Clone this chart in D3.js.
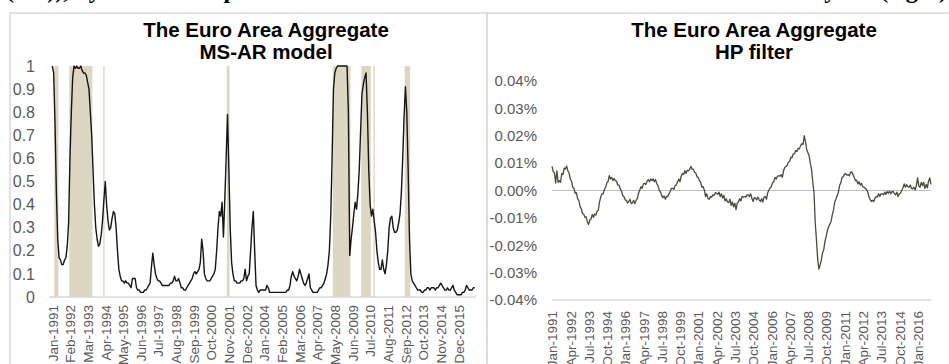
<!DOCTYPE html>
<html>
<head>
<meta charset="utf-8">
<script src="https://cdn.jsdelivr.net/npm/d3@7"></script>
<style>
  body { margin: 0; background: #fff; }
  svg { display: block; }
  .tick text { fill: #595959; font-family: "Liberation Sans", Arial, sans-serif; }
</style>
</head>
<body>
<svg id="chart" width="949" height="364"></svg>
<script>
// Monthly categories, Jan-1991 .. Dec-2016
const fmtMonth = d3.timeFormat("%b-%Y");
const months = d3.timeMonth.range(new Date(1991, 0, 1), new Date(2017, 0, 1)).map(fmtMonth);

// Recession probability from the Markov-switching AR model (one row per year)
const msarProb = [
  1.00, 0.97, 0.75, 0.45, 0.25, 0.17, 0.16, 0.14, 0.14, 0.16, 0.17, 0.22,
  0.32, 0.60, 0.80, 0.95, 1.00, 0.99, 1.00, 0.99, 0.99, 1.00, 0.98, 0.97,
  0.97, 0.96, 0.93, 0.90, 0.80, 0.70, 0.55, 0.40, 0.30, 0.25, 0.22, 0.23,
  0.27, 0.33, 0.42, 0.50, 0.40, 0.33, 0.29, 0.30, 0.34, 0.37, 0.36, 0.30,
  0.20, 0.12, 0.09, 0.07, 0.07, 0.06, 0.07, 0.06, 0.06, 0.05, 0.04, 0.08,
  0.08, 0.08, 0.04, 0.03, 0.03, 0.02, 0.02, 0.02, 0.03, 0.03, 0.04, 0.05,
  0.06, 0.13, 0.19, 0.14, 0.10, 0.08, 0.07, 0.07, 0.06, 0.05, 0.05, 0.05,
  0.05, 0.05, 0.05, 0.06, 0.06, 0.07, 0.09, 0.07, 0.07, 0.08, 0.06, 0.04,
  0.04, 0.03, 0.03, 0.04, 0.05, 0.06, 0.07, 0.08, 0.10, 0.11, 0.10, 0.11,
  0.12, 0.15, 0.25, 0.20, 0.10, 0.08, 0.07, 0.07, 0.07, 0.08, 0.09, 0.10,
  0.12, 0.20, 0.30, 0.37, 0.35, 0.41, 0.26, 0.42, 0.60, 0.79, 0.55, 0.30,
  0.15, 0.10, 0.07, 0.07, 0.06, 0.06, 0.06, 0.07, 0.07, 0.08, 0.12, 0.07,
  0.09, 0.10, 0.20, 0.30, 0.37, 0.20, 0.05, 0.03, 0.02, 0.03, 0.03, 0.03,
  0.03, 0.03, 0.05, 0.04, 0.02, 0.02, 0.02, 0.02, 0.02, 0.02, 0.02, 0.02,
  0.02, 0.02, 0.02, 0.02, 0.02, 0.03, 0.03, 0.05, 0.09, 0.11, 0.09, 0.08,
  0.07, 0.09, 0.12, 0.10, 0.08, 0.06, 0.05, 0.06, 0.08, 0.10, 0.04, 0.03,
  0.02, 0.02, 0.02, 0.02, 0.03, 0.04, 0.04, 0.05, 0.06, 0.08, 0.10, 0.14,
  0.20, 0.35, 0.60, 0.90, 0.97, 0.99, 1.00, 1.00, 1.00, 1.00, 1.00, 1.00,
  1.00, 1.00, 0.80, 0.18, 0.25, 0.30, 0.36, 0.41, 0.38, 0.45, 0.55, 0.72,
  0.88, 0.92, 0.95, 0.97, 0.80, 0.55, 0.40, 0.35, 0.38, 0.33, 0.28, 0.20,
  0.15, 0.12, 0.12, 0.16, 0.12, 0.10, 0.14, 0.20, 0.30, 0.34, 0.35, 0.30,
  0.28, 0.28, 0.29, 0.32, 0.36, 0.45, 0.60, 0.78, 0.91, 0.80, 0.55, 0.25,
  0.10, 0.07, 0.06, 0.05, 0.04, 0.03, 0.03, 0.03, 0.02, 0.02, 0.03, 0.03,
  0.04, 0.04, 0.03, 0.04, 0.04, 0.04, 0.03, 0.04, 0.04, 0.05, 0.06, 0.05,
  0.04, 0.03, 0.03, 0.04, 0.03, 0.03, 0.04, 0.05, 0.03, 0.02, 0.01, 0.01,
  0.01, 0.01, 0.02, 0.02, 0.03, 0.05, 0.04, 0.03, 0.03, 0.03, 0.04, 0.04
];

// HP-filter cycle, in percent (one row per year)
const hpCycle = [
  0.0088, 0.0070, 0.0064, 0.0028, 0.0072, 0.0030, 0.0036, 0.0030, 0.0062, 0.0058, 0.0082, 0.0078,
  0.0090, 0.0072, 0.0064, 0.0042, 0.0034, 0.0012, 0.0008, -0.0010, -0.0008, -0.0030, -0.0036, -0.0058,
  -0.0066, -0.0084, -0.0086, -0.0098, -0.0096, -0.0114, -0.0124, -0.0108, -0.0104, -0.0088, -0.0098, -0.0086,
  -0.0090, -0.0076, -0.0072, -0.0042, -0.0024, -0.0012, -0.0012, 0.0004, 0.0012, 0.0028, 0.0032, 0.0054,
  0.0042, 0.0048, 0.0036, 0.0044, 0.0036, 0.0034, 0.0020, 0.0020, 0.0006, -0.0002, -0.0018, -0.0022,
  -0.0034, -0.0036, -0.0046, -0.0040, -0.0032, -0.0048, -0.0046, -0.0036, -0.0048, -0.0036, -0.0030, -0.0010,
  0.0002, 0.0014, 0.0008, 0.0024, 0.0026, 0.0022, 0.0034, 0.0040, 0.0032, 0.0042, 0.0036, 0.0042,
  0.0032, 0.0040, 0.0024, 0.0018, 0.0002, -0.0006, -0.0018, -0.0026, -0.0020, -0.0032, -0.0022, -0.0022,
  -0.0012, -0.0004, 0.0008, 0.0008, 0.0004, 0.0018, 0.0020, 0.0032, 0.0042, 0.0032, 0.0052, 0.0062,
  0.0058, 0.0072, 0.0062, 0.0074, 0.0072, 0.0078, 0.0088, 0.0078, 0.0078, 0.0066, 0.0064, 0.0050,
  0.0048, 0.0036, 0.0030, 0.0012, 0.0014, 0.0002, -0.0022, -0.0012, -0.0030, -0.0032, -0.0022, -0.0024,
  -0.0016, -0.0018, -0.0008, -0.0010, -0.0014, -0.0006, -0.0022, -0.0012, -0.0028, -0.0018, -0.0038, -0.0030,
  -0.0042, -0.0044, -0.0032, -0.0054, -0.0042, -0.0060, -0.0046, -0.0070, -0.0046, -0.0042, -0.0030, -0.0038,
  -0.0022, -0.0024, -0.0022, -0.0024, -0.0016, -0.0016, -0.0022, -0.0012, -0.0028, -0.0040, -0.0026, -0.0028,
  -0.0034, -0.0024, -0.0034, -0.0040, -0.0030, -0.0042, -0.0024, -0.0022, -0.0032, -0.0008, 0.0002, 0.0010,
  0.0014, 0.0028, 0.0032, 0.0048, 0.0042, 0.0052, 0.0054, 0.0052, 0.0058, 0.0048, 0.0072, 0.0084,
  0.0088, 0.0092, 0.0104, 0.0106, 0.0122, 0.0120, 0.0134, 0.0134, 0.0146, 0.0142, 0.0154, 0.0152,
  0.0164, 0.0170, 0.0168, 0.0200, 0.0178, 0.0150, 0.0138, 0.0126, 0.0098, 0.0076, 0.0030, -0.0008,
  -0.0117, -0.0180, -0.0250, -0.0287, -0.0272, -0.0254, -0.0228, -0.0216, -0.0186, -0.0168, -0.0146, -0.0132,
  -0.0122, -0.0114, -0.0088, -0.0072, -0.0042, -0.0032, -0.0018, -0.0006, 0.0018, 0.0028, 0.0048, 0.0050,
  0.0060, 0.0062, 0.0056, 0.0058, 0.0054, 0.0066, 0.0068, 0.0058, 0.0048, 0.0036, 0.0038, 0.0024,
  0.0032, 0.0020, 0.0026, 0.0014, 0.0012, 0.0008, 0.0004, -0.0004, -0.0022, -0.0032, -0.0040, -0.0036,
  -0.0040, -0.0028, -0.0022, -0.0024, -0.0012, -0.0022, -0.0012, -0.0012, -0.0016, -0.0006, -0.0014, -0.0004,
  -0.0010, -0.0002, -0.0012, -0.0004, -0.0004, -0.0012, -0.0016, -0.0006, -0.0022, -0.0012, -0.0010, 0.0000,
  0.0010, 0.0024, 0.0012, 0.0022, 0.0014, 0.0012, 0.0020, 0.0008, 0.0006, 0.0012, 0.0002, 0.0018,
  0.0046, 0.0016, 0.0012, 0.0030, 0.0018, 0.0030, 0.0008, 0.0022, 0.0010, 0.0034, 0.0046, 0.0022
];

// Shaded recession periods [first month, last month]
const recessionStart = ["Mar-1991", "Feb-1992", "Mar-1994", "Oct-2001", "Apr-2008", "Jan-2010", "Oct-2010", "Sep-2012"];
const recessionEnd   = ["May-1991", "Jun-1993", "Mar-1994", "Nov-2001", "Apr-2009", "Jul-2010", "Oct-2010", "Dec-2012"];

// Axis tick labels
const msarTicksX = ["Jan-1991", "Feb-1992", "Mar-1993", "Apr-1994", "May-1995", "Jun-1996", "Jul-1997", "Aug-1998",
  "Sep-1999", "Oct-2000", "Nov-2001", "Dec-2002", "Jan-2004", "Feb-2005", "Mar-2006", "Apr-2007", "May-2008",
  "Jun-2009", "Jul-2010", "Aug-2011", "Sep-2012", "Oct-2013", "Nov-2014", "Dec-2015"];
const hpTicksX = ["Jan-1991", "Apr-1992", "Jul-1993", "Oct-1994", "Jan-1996", "Apr-1997", "Jul-1998", "Oct-1999",
  "Jan-2001", "Apr-2002", "Jul-2003", "Oct-2004", "Jan-2006", "Apr-2007", "Jul-2008", "Oct-2009", "Jan-2011",
  "Apr-2012", "Jul-2013", "Oct-2014", "Jan-2016"];
const msarTicksY = [0, 0.1, 0.2, 0.3, 0.4, 0.5, 0.6, 0.7, 0.8, 0.9, 1];
const hpTicksY = [-0.04, -0.03, -0.02, -0.01, 0, 0.01, 0.02, 0.03, 0.04];

const titleLine1 = "The Euro Area Aggregate";
const msarTitle2 = "MS-AR model";
const hpTitle2 = "HP filter";

const svg = d3.select("#chart");

// Caption line running above the two panels (only its lowest strokes fall inside the page)
const capFont = '"Liberation Serif", "Times New Roman", serif';
svg.append("text").attr("x", 6).attr("y", -2)
  .attr("font-family", capFont).attr("font-weight", "bold").attr("font-size", 24)
  .text("(left)), by the real output and the");
svg.append("text").attr("x", 947).attr("y", -2).attr("text-anchor", "end")
  .attr("font-family", capFont).attr("font-weight", "bold").attr("font-size", 24)
  .text("model estimates obtained by HP (right)");

// Panel frames
svg.append("rect").attr("x", 10).attr("y", 13).attr("width", 477).attr("height", 400)
  .attr("fill", "none").attr("stroke", "#d9d9d9").attr("stroke-width", 1.5);
svg.append("rect").attr("x", 487).attr("y", 13).attr("width", 500).attr("height", 400)
  .attr("fill", "none").attr("stroke", "#d9d9d9").attr("stroke-width", 1.5);

function titles(cx, second) {
  const t = svg.append("text").attr("text-anchor", "middle")
    .attr("font-family", '"Liberation Sans", Arial, sans-serif')
    .attr("font-weight", "bold").attr("font-size", 20.5).attr("fill", "#000");
  t.append("tspan").attr("x", cx).attr("y", 37).text(titleLine1);
  t.append("tspan").attr("x", cx).attr("y", 59).text(second);
}
titles(266, msarTitle2);
titles(754, hpTitle2);

function rotateLabels(g, offset) {
  g.selectAll(".tick text")
    .attr("transform", "rotate(-90)")
    .attr("text-anchor", "end")
    .attr("x", -offset).attr("y", 0).attr("dy", "0.35em")
    .attr("font-size", 13.5);
}

// ---------- Left panel: MS-AR recession probability ----------
const xL = d3.scalePoint().domain(months).range([52.3, 474.7]);
const yL = d3.scaleLinear().domain([0, 1]).range([297, 66]);
const stepL = xL.step();

const left = svg.append("g");
left.selectAll("rect.rec").data(d3.range(recessionStart.length)).join("rect")
  .attr("class", "rec")
  .attr("x", i => xL(recessionStart[i]) - stepL / 2)
  .attr("width", i => xL(recessionEnd[i]) - xL(recessionStart[i]) + stepL)
  .attr("y", yL(1)).attr("height", yL(0) - yL(1))
  .attr("fill", "#dcd6c3");

left.append("line").attr("x1", 49).attr("x2", 476).attr("y1", yL(0)).attr("y2", yL(0))
  .attr("stroke", "#d9d9d9").attr("stroke-width", 1.3);

left.append("path")
  .datum(msarProb)
  .attr("fill", "none").attr("stroke", "#141414").attr("stroke-width", 1.4)
  .attr("stroke-linejoin", "round")
  .attr("d", d3.line().x((d, i) => xL(months[i])).y(d => yL(d)));

const lyAxis = left.append("g").attr("transform", "translate(49,0)")
  .call(d3.axisLeft(yL).tickValues(msarTicksY).tickSize(0).tickPadding(14)
    .tickFormat(d => String(+d.toFixed(1))));
lyAxis.select(".domain").remove();
lyAxis.selectAll(".tick text").attr("font-size", 16);

const lxAxis = left.append("g").attr("transform", `translate(0,${yL(0)})`)
  .call(d3.axisBottom(xL).tickValues(msarTicksX).tickSize(0));
lxAxis.select(".domain").remove();
rotateLabels(lxAxis, 8);

// ---------- Right panel: HP filter cycle ----------
const xR = d3.scalePoint().domain(months).range([552, 931]);
const yR = d3.scaleLinear().domain([-0.04, 0.04]).range([300, 81]);

const right = svg.append("g");
right.append("line").attr("x1", 552).attr("x2", 931).attr("y1", yR(-0.04)).attr("y2", yR(-0.04))
  .attr("stroke", "#d9d9d9").attr("stroke-width", 1.3);
right.append("line").attr("x1", 552).attr("x2", 931).attr("y1", yR(0)).attr("y2", yR(0))
  .attr("stroke", "#bfbfbf").attr("stroke-width", 1.2);

right.append("path")
  .datum(hpCycle)
  .attr("fill", "none").attr("stroke", "#4a4a3c").attr("stroke-width", 1.3)
  .attr("stroke-linejoin", "round")
  .attr("d", d3.line().x((d, i) => xR(months[i])).y(d => yR(d)));

const ryAxis = right.append("g").attr("transform", "translate(552,0)")
  .call(d3.axisLeft(yR).tickValues(hpTicksY).tickSize(0).tickPadding(15)
    .tickFormat(d => d.toFixed(2) + "%"));
ryAxis.select(".domain").remove();
ryAxis.selectAll(".tick text").attr("font-size", 15);

const rxAxis = right.append("g").attr("transform", `translate(0,${yR(-0.04)})`)
  .call(d3.axisBottom(xR).tickValues(hpTicksX).tickSize(0));
rxAxis.select(".domain").remove();
rotateLabels(rxAxis, 11);
</script>
</body>
</html>
